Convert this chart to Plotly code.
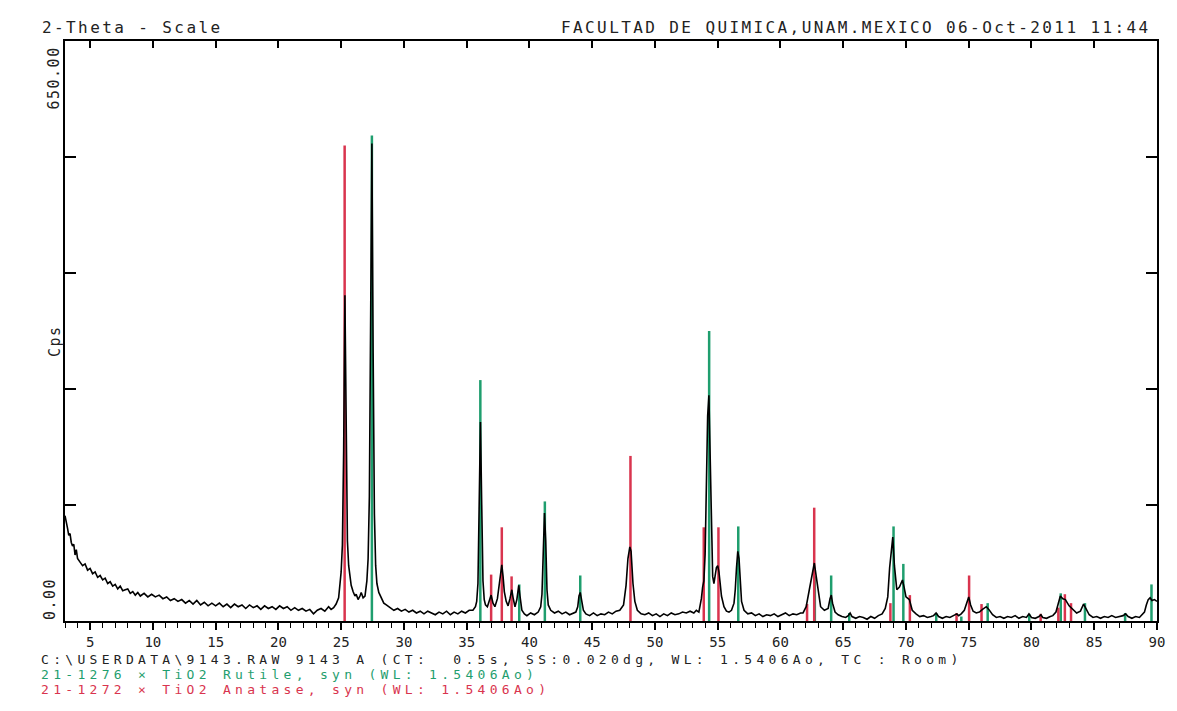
import plotly.graph_objects as go

# ---------------- data ----------------
two_theta = [
    3.0, 3.1, 3.2, 3.3, 3.4, 3.5, 3.6, 3.7, 3.8, 3.9,
    4.0, 4.2, 4.4, 4.6, 4.8, 5.0, 5.2, 5.4, 5.6, 5.8,
    6.0, 6.2, 6.4, 6.6, 6.8, 7.0, 7.2, 7.4, 7.6, 7.8,
    8.0, 8.2, 8.4, 8.6, 8.8, 9.0, 9.3, 9.6, 9.9, 10.2,
    10.5, 10.8, 11.1, 11.4, 11.7, 12.0, 12.3, 12.6, 12.9, 13.2,
    13.5, 13.8, 14.1, 14.4, 14.7, 15.0, 15.3, 15.6, 15.9, 16.2,
    16.5, 16.8, 17.1, 17.4, 17.7, 18.0, 18.3, 18.6, 18.9, 19.2,
    19.5, 19.8, 20.1, 20.4, 20.7, 21.0, 21.3, 21.6, 21.9, 22.2,
    22.5, 22.8, 23.1, 23.4, 23.7, 24.0, 24.2, 24.4, 24.6, 24.8,
    24.9, 25.0, 25.1, 25.2, 25.3, 25.4, 25.5, 25.6, 25.7, 25.8,
    25.95, 26.1, 26.2, 26.35, 26.5, 26.6, 26.75, 26.9, 27.05, 27.15,
    27.25, 27.35, 27.45, 27.55, 27.65, 27.75, 27.85, 28.0, 28.2, 28.4,
    28.6, 28.9, 29.2, 29.5, 29.8, 30.1, 30.4, 30.7, 31.0, 31.3,
    31.6, 31.9, 32.2, 32.5, 32.8, 33.1, 33.4, 33.7, 34.0, 34.3,
    34.6, 34.9, 35.2, 35.5, 35.7, 35.8, 35.9, 36.0, 36.1, 36.2,
    36.3, 36.4, 36.5, 36.65, 36.8, 36.95, 37.1, 37.25, 37.45, 37.6,
    37.7, 37.8, 37.9, 38.0, 38.15, 38.3, 38.45, 38.6, 38.7, 38.85,
    39.0, 39.15, 39.25, 39.4, 39.6, 39.8, 40.1, 40.4, 40.7, 40.9,
    41.0, 41.1, 41.2, 41.3, 41.4, 41.5, 41.7, 42.0, 42.3, 42.6,
    42.9, 43.2, 43.5, 43.7, 43.85, 43.95, 44.05, 44.15, 44.3, 44.5,
    44.8, 45.1, 45.4, 45.7, 46.0, 46.3, 46.6, 46.9, 47.2, 47.5,
    47.7, 47.85, 48.0, 48.1, 48.25, 48.4, 48.6, 48.9, 49.2, 49.5,
    49.8, 50.1, 50.4, 50.7, 51.0, 51.3, 51.6, 51.9, 52.2, 52.5,
    52.8, 53.1, 53.3, 53.5, 53.7, 53.8, 53.9, 54.0, 54.1, 54.2,
    54.3, 54.4, 54.5, 54.6, 54.7, 54.8, 54.9, 55.0, 55.1, 55.2,
    55.3, 55.5, 55.7, 55.9, 56.1, 56.3, 56.4, 56.5, 56.6, 56.7,
    56.8, 56.9, 57.1, 57.4, 57.7, 58.0, 58.3, 58.6, 58.9, 59.2,
    59.5, 59.8, 60.1, 60.4, 60.7, 61.0, 61.3, 61.6, 61.8, 62.05,
    62.3, 62.5, 62.7, 62.85, 63.0, 63.2, 63.5, 63.8, 63.95, 64.05,
    64.15, 64.35, 64.6, 64.9, 65.2, 65.4, 65.55, 65.7, 66.0, 66.3,
    66.6, 66.9, 67.2, 67.5, 67.8, 68.1, 68.35, 68.55, 68.7, 68.85,
    68.95, 69.08, 69.27, 69.48, 69.72, 69.85, 70.0, 70.27, 70.5, 70.8,
    71.1, 71.4, 71.7, 72.0, 72.2, 72.4, 72.6, 72.9, 73.2, 73.5,
    73.8, 74.05, 74.2, 74.4, 74.65, 74.85, 75.0, 75.15, 75.35, 75.6,
    75.85, 76.1, 76.4, 76.6, 76.9, 77.2, 77.5, 77.8, 78.1, 78.4,
    78.7, 79.0, 79.3, 79.6, 79.8, 80.0, 80.3, 80.6, 80.75, 80.9,
    81.2, 81.5, 81.7, 81.95, 82.1, 82.3, 82.5, 82.7, 83.0, 83.3,
    83.6, 83.9, 84.15, 84.3, 84.6, 84.9, 85.2, 85.5, 85.8, 86.1,
    86.4, 86.7, 87.0, 87.3, 87.5, 87.7, 88.0, 88.3, 88.6, 88.8,
    89.0, 89.15, 89.3, 89.45, 89.6, 89.8, 90.0,
]
counts = [
    118, 108, 104, 96, 98, 88, 84, 86, 74, 80,
    70, 66, 62, 64, 57, 59, 53, 55, 49, 51,
    46, 48, 42, 44, 39, 41, 36, 39, 34, 35,
    36, 31, 33, 29, 32, 28, 31, 27, 30, 27,
    29, 25, 27, 23, 25, 22, 24, 20, 23, 19,
    23, 18, 21, 17, 20, 17, 20, 16, 19, 15,
    19, 16, 18, 14, 18, 15, 17, 13, 17, 14,
    16, 13, 17, 14, 16, 12, 15, 12, 14, 11,
    13, 8, 12, 14, 11, 16, 13, 15, 19, 26,
    40, 55, 85, 190, 365, 200, 90, 62, 50, 40,
    33, 28, 30, 24, 28, 32, 26, 28, 45, 70,
    140, 330, 535, 300, 120, 62, 42, 32, 25, 20,
    18, 15, 12, 14, 11, 13, 10, 12, 9, 11,
    8, 11, 9, 7, 10, 8, 11, 7, 10, 8,
    11, 9, 12, 12, 16, 22, 42, 120, 223, 130,
    45, 24, 18, 16, 22, 29, 20, 16, 25, 40,
    55, 63, 50, 33, 22, 17, 25, 35, 26, 16,
    24, 40, 28, 12, 8, 6, 9, 7, 10, 16,
    30, 80, 121, 90, 35, 18, 12, 9, 11, 8,
    10, 7, 9, 10, 16, 28, 32, 24, 12, 8,
    6, 9, 6, 8, 7, 10, 8, 11, 12, 18,
    40, 70, 83, 78, 42, 22, 12, 8, 7, 9,
    6, 8, 5, 8, 6, 9, 7, 8, 10, 9,
    11, 9, 12, 10, 25, 38, 45, 75, 150, 230,
    253, 180, 100, 50, 42, 52, 60, 62, 55, 42,
    28, 16, 11, 10, 12, 20, 35, 60, 78, 70,
    42, 22, 12, 8, 9, 6, 8, 5, 7, 6,
    8, 5, 7, 9, 6, 8, 7, 9, 9, 16,
    35, 52, 65, 50, 33, 16, 12, 14, 25, 29,
    20, 10, 7, 5, 4, 6, 9, 5, 3, 5,
    4, 2, 5, 3, 6, 8, 14, 27, 60, 85,
    94, 62, 35, 38, 46, 38, 27, 24, 12, 8,
    5, 6, 4, 5, 6, 9, 5, 3, 5, 4,
    6, 8, 6, 8, 12, 22, 27, 18, 11, 9,
    10, 13, 16, 13, 7, 4, 5, 3, 5, 4,
    6, 3, 5, 4, 8, 4, 3, 5, 7, 4,
    3, 5, 6, 10, 18, 28, 25, 24, 17, 13,
    9, 11, 19, 15, 7, 4, 5, 3, 5, 4,
    6, 4, 5, 6, 8, 5, 3, 5, 4, 7,
    10, 18, 24, 26, 23, 24, 22,
]

# Reference patterns (stick lines)
rutile_pos = [27.45, 36.09, 39.19, 41.23, 44.05, 54.32, 56.64, 62.74, 64.04, 65.48,
              69.01, 69.79, 72.41, 74.41, 76.51, 79.82, 82.33, 84.26, 87.46, 89.56]
rutile_int = [544, 270, 41, 134, 51, 325, 106, 50, 51, 9,
              106, 64, 9, 5, 20, 8, 31, 20, 9, 41]
anatase_pos = [25.28, 36.95, 37.80, 38.58, 48.05, 53.89, 55.06, 62.12, 62.69, 68.76,
               70.31, 74.03, 75.03, 76.02, 80.73, 82.14, 82.66, 83.15]
anatase_int = [533, 52, 105, 50, 185, 105, 105, 19, 127, 20,
               29, 9, 51, 19, 8, 15, 30, 20]

x_range = [3, 90]
y_range = [0, 650]

title_left = "2-Theta - Scale"
title_right = "FACULTAD DE QUIMICA,UNAM.MEXICO 06-Oct-2011 11:44"
info_line = r"C:\USERDATA\9143.RAW 9143 A (CT:  0.5s, SS:0.020dg, WL: 1.5406Ao, TC : Room)"
rutile_label = "21-1276 × TiO2 Rutile, syn (WL: 1.5406Ao)"
anatase_label = "21-1272 × TiO2 Anatase, syn (WL: 1.5406Ao)"
y_top_label = "650.00"
y_bottom_label = "0.00"
y_title = "Cps"

GREEN = "#1f9e6e"
RED = "#d9344e"
TXT = "#222222"
FONT = "DejaVu Sans Mono"

# page offset of the figure (default body margin of the html page)
OFF = 8
W, H = 1177 - OFF, 711 - OFF
L, T = 65 - OFF, 41 - OFF
PW, PH = 1092, 580
R, B = W - L - PW, H - T - PH


def px_x(p):
    return (p - OFF - L) / PW


def px_y(p):
    return (OFF + T + PH - p) / PH


def sticks(pos, inten):
    xs, ys = [], []
    for p, h in zip(pos, inten):
        xs += [p, p, None]
        ys += [0, h, None]
    return xs, ys


def spaced(t, ls):
    return f'<span style="letter-spacing:{ls}px">{t}</span>'


fig = go.Figure()

rx, ry = sticks(rutile_pos, rutile_int)
ax, ay = sticks(anatase_pos, anatase_int)
fig.add_trace(go.Scatter(x=rx, y=ry, mode="lines", line=dict(color=GREEN, width=2.5),
                         hoverinfo="skip", showlegend=False))
fig.add_trace(go.Scatter(x=ax, y=ay, mode="lines", line=dict(color=RED, width=2.5),
                         hoverinfo="skip", showlegend=False))
fig.add_trace(go.Scatter(x=two_theta, y=counts, mode="lines",
                         line=dict(color="black", width=1.6), showlegend=False))
# dummy traces so that mirrored axes are drawn
fig.add_trace(go.Scatter(x=x_range, y=y_range, mode="none", xaxis="x2", yaxis="y",
                         hoverinfo="skip", showlegend=False))
fig.add_trace(go.Scatter(x=x_range, y=y_range, mode="none", xaxis="x", yaxis="y2",
                         hoverinfo="skip", showlegend=False))

axis_common = dict(showline=True, linewidth=2, linecolor="black", showgrid=False,
                   zeroline=False, tickcolor="black")

fig.update_layout(
    width=W, height=H,
    margin=dict(l=L, r=R, t=T, b=B, pad=0),
    paper_bgcolor="white", plot_bgcolor="white",
    font=dict(family=FONT, color=TXT),
    xaxis=dict(range=x_range, tickmode="linear", tick0=0, dtick=5, ticks="outside",
               ticklen=7, tickwidth=1.5, tickfont=dict(family=FONT, size=14, color=TXT),
               minor=dict(tick0=0, dtick=1, ticks="outside", ticklen=5, tickwidth=1.2,
                          tickcolor="black", showgrid=False),
               **axis_common),
    xaxis2=dict(range=x_range, overlaying="x", side="top", anchor="y", tickmode="linear",
                tick0=0, dtick=5, ticks="inside", ticklen=7, tickwidth=1.5,
                showticklabels=False, **axis_common),
    yaxis=dict(range=y_range, tickmode="linear", tick0=0, dtick=130, ticks="inside",
               ticklen=11, tickwidth=1.5, showticklabels=False, **axis_common),
    yaxis2=dict(range=y_range, overlaying="y", side="right", anchor="x", tickmode="linear",
                tick0=0, dtick=130, ticks="inside", ticklen=11, tickwidth=1.5,
                showticklabels=False, **axis_common),
)

ann = []
ann.append(dict(text=spaced(title_left, 2.4), x=px_x(40), y=px_y(27), xref="paper", yref="paper",
                xanchor="left", yanchor="middle", showarrow=False,
                font=dict(family=FONT, size=16, color=TXT)))
ann.append(dict(text=spaced(title_right, 2.4), x=px_x(1153), y=px_y(27), xref="paper", yref="paper",
                xanchor="right", yanchor="middle", showarrow=False,
                font=dict(family=FONT, size=16, color=TXT)))
# three footer lines, 15 px apart
for txt, yy, col in [(info_line, 659, TXT), (rutile_label, 674, GREEN), (anatase_label, 689, RED)]:
    ann.append(dict(text=spaced(txt, 4.3), x=px_x(39), y=px_y(yy), xref="paper", yref="paper",
                    xanchor="left", yanchor="middle", showarrow=False,
                    font=dict(family=FONT, size=13, color=col)))
ann.append(dict(text=spaced(y_top_label, 1.5), x=px_x(53), y=px_y(45), xref="paper", yref="paper",
                xanchor="center", yanchor="top", textangle=-90, showarrow=False,
                font=dict(family=FONT, size=15, color=TXT)))
ann.append(dict(text=spaced(y_bottom_label, 1.5), x=px_x(50), y=px_y(622), xref="paper", yref="paper",
                xanchor="center", yanchor="bottom", textangle=-90, showarrow=False,
                font=dict(family=FONT, size=15, color=TXT)))
ann.append(dict(text=spaced(y_title, 1.5), x=px_x(55), y=px_y(341), xref="paper", yref="paper",
                xanchor="center", yanchor="middle", textangle=-90, showarrow=False,
                font=dict(family=FONT, size=15, color=TXT)))
fig.update_layout(annotations=ann)

fig.write_html("out.html")
